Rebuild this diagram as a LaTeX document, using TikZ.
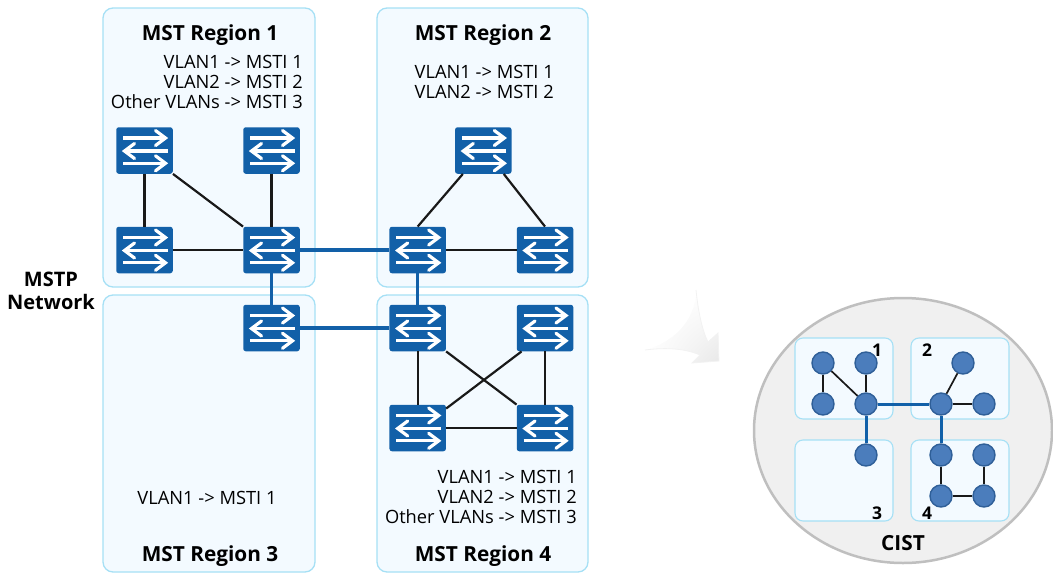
\documentclass[tikz,border=0pt]{standalone}
\usepackage{fontspec}
\setmainfont{Open Sans}
\usetikzlibrary{shadings}
\definecolor{swblue}{HTML}{1260A8}
\definecolor{regfill}{HTML}{F3FAFF}
\definecolor{regline}{HTML}{A6E0F5}
\definecolor{dotfill}{HTML}{4B7DBC}
\definecolor{dotline}{HTML}{2F5F98}
\tikzset{
  region/.style={draw=regline,fill=regfill,line width=1.3pt,rounded corners=10pt},
  smallreg/.style={draw=regline,fill=regfill,line width=1.1pt,rounded corners=8pt},
  title/.style={font=\fontsize{20.8}{23}\selectfont\bfseries,inner sep=0pt},
  map/.style={font=\fontsize{18.3}{20.4}\selectfont,inner sep=0pt,align=right},
  lnk/.style={draw=black!90,line width=2.2pt},
  trunk/.style={draw=swblue,line width=3.2pt},
  swbox/.style={fill=swblue,draw=none,rounded corners=2.5pt,minimum width=56.5pt,minimum height=46.5pt,inner sep=0pt},
  dot/.style={circle,fill=dotfill,draw=dotline,line width=1.4pt,minimum size=22pt,inner sep=0pt},
  clnk/.style={draw=black!90,line width=1.7pt},
  ctrunk/.style={draw=swblue,line width=3pt},
  num/.style={font=\fontsize{17.5}{19}\selectfont\bfseries,inner sep=0pt},
}
\newcommand{\swicon}[1]{%
  \begin{scope}[shift={(#1.center)},white,line width=3.2pt,line join=miter]
    \draw (-21.5,-12.5) -- (20.5,-12.5);
    \draw[line cap=round] (11,-20) -- (21,-12.5) -- (11,-5);
    \draw (23,0.5) -- (-19,0.5);
    \draw[line cap=round] (-10,-7) -- (-20,0.5) -- (-10,8);
    \draw (-21.5,12.8) -- (20.5,12.8);
    \draw[line cap=round] (11,5.3) -- (21,12.8) -- (11,20.3);
  \end{scope}}
\begin{document}
\begin{tikzpicture}[x=1pt,y=-1pt]
\useasboundingbox (0,0) rectangle (1053,573);
% regions
\draw[region] (103,8) rectangle (315,287);
\draw[region] (377,8) rectangle (588,287);
\draw[region] (103,295) rectangle (315,572);
\draw[region] (377,295) rectangle (588,572);
% titles
\node[title] (t1) at (210,35) {MST Region 1};
\node[title] (t2) at (483,35) {MST Region 2};
\node[title] (t3) at (210,556) {MST Region 3};
\node[title] (t4) at (483,556) {MST Region 4};
\node[map,anchor=east] (m1) at (303,82) {VLAN1 -> MSTI 1\\VLAN2 -> MSTI 2\\Other VLANs -> MSTI 3};
\node[map,anchor=east] (m2) at (554,82) {VLAN1 -> MSTI 1\\VLAN2 -> MSTI 2};
\node[map,anchor=center] (m3) at (207,498) {VLAN1 -> MSTI 1};
\node[map,anchor=east] (m4) at (577,497) {VLAN1 -> MSTI 1\\VLAN2 -> MSTI 2\\Other VLANs -> MSTI 3};
\node[font=\fontsize{20}{23}\selectfont\bfseries,align=center,inner sep=0pt] (net) at (51,290.5) {MSTP\\Network};
% switches
\node[swbox] (a1) at (144.5,150.5) {};
\node[swbox] (a2) at (271.5,150.5) {};
\node[swbox] (a3) at (144.5,250) {};
\node[swbox] (a4) at (271.5,250) {};
\node[swbox] (b1) at (483.3,150.5) {};
\node[swbox] (b2) at (417.7,250) {};
\node[swbox] (b3) at (545,250) {};
\node[swbox] (c1) at (271.5,328) {};
\node[swbox] (d1) at (417.7,328) {};
\node[swbox] (d2) at (545,328) {};
\node[swbox] (d3) at (417.7,428) {};
\node[swbox] (d4) at (545,428) {};
% links
\draw[lnk] (a1) -- (a3);
\draw[lnk] (a2) -- (a4);
\draw[lnk] (a3) -- (a4);
\draw[lnk] (a1.south east) -- (a4.north west);
\draw[lnk] ([xshift=8pt]b1.south west) -- (b2.north);
\draw[lnk] ([xshift=-8pt]b1.south east) -- (b3.north);
\draw[lnk] (b2) -- (b3);
\draw[lnk] (d1) -- (d3);
\draw[lnk] (d2) -- (d4);
\draw[lnk] (d3) -- (d4);
\draw[lnk] (d1.south east) -- (d4.north west);
\draw[lnk] ([xshift=5pt]d2.south west) -- ([yshift=-4pt]d3.north east);
\draw[trunk] (a4) -- (b2);
\draw[trunk] (a4) -- (c1);
\draw[trunk] (c1) -- (d1);
\draw[trunk] (b2) -- (d1);
\foreach \n in {a1,a2,a3,a4,b1,b2,b3,c1,d1,d2,d3,d4}{\swicon{\n}}
% faded arrow
\shade[upper left=white,upper right=white,lower left=white,lower right=black!9] (645,350) .. controls (668,347) and (686,349) .. (700,355) -- (692,363) -- (719,361) -- (718,333) -- (708,342) .. controls (702,330) and (698,310) .. (696,290) .. controls (696,315) and (680,340) .. (645,350) -- cycle;
\draw[black!5,line width=.8pt] (645,350) .. controls (668,347) and (686,349) .. (700,355) -- (692,363) -- (719,361) -- (718,333) -- (708,342) .. controls (702,330) and (698,310) .. (696,290);
% CIST
\draw[draw=black!25,fill=black!6,line width=2.5pt] (903,430.5) ellipse [x radius=149,y radius=132.5];
\draw[smallreg] (795,338) rectangle (893,419);
\draw[smallreg] (911,338) rectangle (1009,419);
\draw[smallreg] (795,440) rectangle (893,521);
\draw[smallreg] (911,440) rectangle (1009,521);
\node[dot] (n1) at (823,363) {};
\node[dot] (n2) at (866,363) {};
\node[dot] (n3) at (823,404) {};
\node[dot] (n4) at (866,404) {};
\node[dot] (n5) at (963,363) {};
\node[dot] (n6) at (941,404) {};
\node[dot] (n7) at (984,404) {};
\node[dot] (n8) at (866,455) {};
\node[dot] (n9) at (941,455) {};
\node[dot] (n10) at (984,455) {};
\node[dot] (n11) at (941,496) {};
\node[dot] (n12) at (984,496) {};
\draw[clnk] (n1) -- (n3);
\draw[clnk] (n1) -- (n4);
\draw[clnk] (n2) -- (n4);
\draw[clnk] (n5) -- (n6);
\draw[clnk] (n6) -- (n7);
\draw[clnk] (n9) -- (n11);
\draw[clnk] (n10) -- (n12);
\draw[clnk] (n11) -- (n12);
\draw[ctrunk] (n4) -- (n6);
\draw[ctrunk] (n4) -- (n8);
\draw[ctrunk] (n6) -- (n9);
\node[num] (l1) at (877,350) {1};
\node[num] (l2) at (927,350) {2};
\node[num] (l3) at (877,513) {3};
\node[num] (l4) at (927,513) {4};
\node[title] (cist) at (903,543) {CIST};
\end{tikzpicture}
\end{document}
